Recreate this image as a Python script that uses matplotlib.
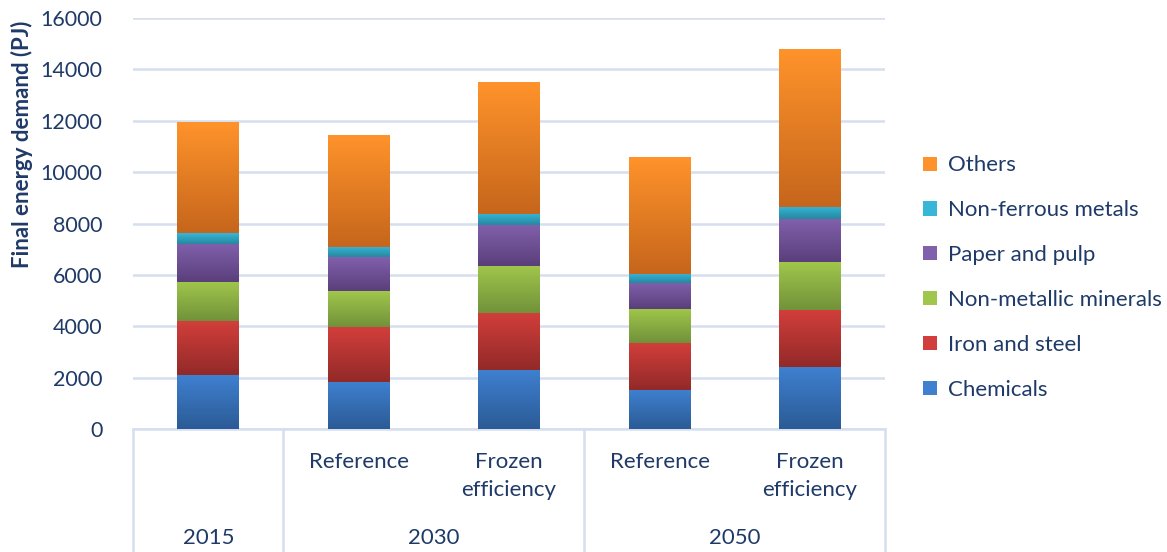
import numpy as np
import matplotlib
matplotlib.use("Agg")
from matplotlib import pyplot as plt
from matplotlib.colors import LinearSegmentedColormap
from matplotlib.patches import Rectangle

# dati (PJ)
years = ["2015", "2030", "2050"]
scenarios = ["", "Reference", "Frozen\nefficiency", "Reference", "Frozen\nefficiency"]
sectors = ["Chemicals", "Iron and steel", "Non-metallic minerals",
           "Paper and pulp", "Non-ferrous metals", "Others"]

chemicals = [2100, 1830, 2300, 1520, 2420]
iron_steel = [2100, 2140, 2220, 1830, 2230]
non_metallic = [1520, 1400, 1830, 1325, 1860]
paper_pulp = [1490, 1320, 1600, 1015, 1650]
non_ferrous = [415, 390, 440, 360, 470]
others = [4290, 4360, 5130, 4540, 6130]

serie = [chemicals, iron_steel, non_metallic, paper_pulp, non_ferrous, others]

# colori (alto, basso) per il gradiente stile Excel
colori = [("#3F80D0", "#2B5B96"),
          ("#D23E3B", "#922A28"),
          ("#A0C64B", "#72923A"),
          ("#8160AC", "#5A3F7B"),
          ("#37B6D8", "#27879F"),
          ("#FF932B", "#C6661C")]

testo = "#1F3A68"
griglia = "#D5DFEF"

plt.rcParams['font.family'] = ['Lato', 'DejaVu Sans']

fig = plt.figure(figsize=(11.67, 5.52), dpi=100)
ax = fig.add_axes([0.114, 0.2228, 0.6445, 0.7445])

x = np.arange(len(scenarios))
base = np.zeros(len(x))
for vals, nome, (c_top, c_bot) in zip(serie, sectors, colori):
    bars = ax.bar(x, vals, width=0.41, bottom=base, color="none",
                  edgecolor="none", zorder=3, label=nome)
    cmap = LinearSegmentedColormap.from_list(nome, [c_bot, c_top])
    grad = np.linspace(0, 1, 100).reshape(-1, 1)
    for b in bars:
        x0, y0 = b.get_x(), b.get_y()
        w, h = b.get_width(), b.get_height()
        ax.imshow(grad, cmap=cmap, aspect="auto", origin="lower",
                  extent=(x0, x0 + w, y0, y0 + h), zorder=3)
    base = base + np.array(vals)

ax.set_xlim(-0.5, len(x) - 0.5)
ax.set_ylim(0, 16000)
ax.set_yticks(np.arange(0, 16001, 2000))
ax.tick_params(axis="y", length=0, pad=22, labelsize=15.5, labelcolor=testo)
ax.set_xticks([])
ax.grid(axis="y", color=griglia, linewidth=1.8, zorder=0)
for s in ["top", "right", "left"]:
    ax.spines[s].set_visible(False)
ax.spines["bottom"].set_color(griglia)
ax.spines["bottom"].set_linewidth(1.8)

fig.text(0.019, 0.739, "Final energy demand (PJ)", rotation=90, ha="center",
         va="center", fontsize=16, fontweight="bold", color=testo)

# asse categorie a due livelli
trans = ax.get_xaxis_transform()
for sep in [-0.5, 0.5, 2.5, 4.5]:
    ax.plot([sep, sep], [0, -0.3], transform=trans, color=griglia,
            linewidth=1.8, clip_on=False)
for xi, lab in zip(x, scenarios):
    if lab:
        ax.text(xi, -0.055, lab, transform=trans, ha="center", va="top",
                fontsize=16, color=testo, linespacing=1.5)
for xc, yr in zip([0, 1.5, 3.5], years):
    ax.text(xc, -0.265, yr, transform=trans, ha="center", va="center",
            fontsize=16, color=testo)

# legenda
proxy = [Rectangle((0, 0), 1, 1, facecolor=c[0], edgecolor="none") for c in colori]
leg = fig.legend(proxy[::-1], sectors[::-1], loc="center left",
                 bbox_to_anchor=(0.774, 0.497), frameon=False, fontsize=16,
                 labelcolor=testo, handlelength=0.6, handleheight=0.6,
                 handletextpad=0.5, labelspacing=1.12)

fig.savefig("out.png", dpi=100)
